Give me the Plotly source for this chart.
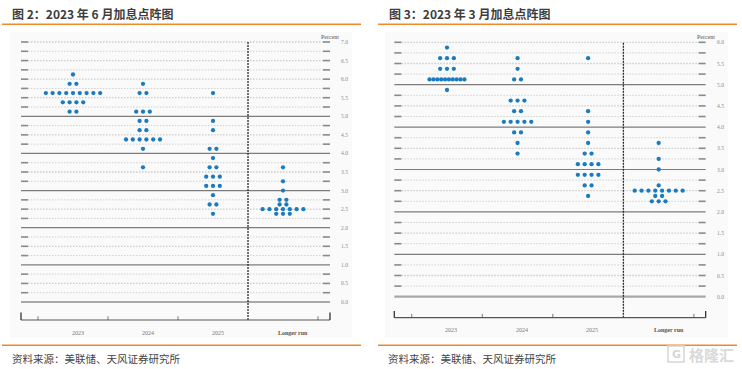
import plotly.graph_objects as go

W, H = 742, 369

# ---------------- data ----------------
CATEGORIES = ["2023", "2024", "2025", "Longer run"]

# June 2023 SEP (figure 2): projected rate levels and number of participants
JUN_LEVELS_2023 = [6.125, 5.875, 5.625, 5.375, 5.125]
JUN_COUNTS_2023 = [1, 2, 9, 4, 2]
JUN_LEVELS_2024 = [5.875, 5.625, 5.125, 4.875, 4.625, 4.375, 4.125, 3.625]
JUN_COUNTS_2024 = [1, 2, 3, 2, 2, 6, 1, 1]
JUN_LEVELS_2025 = [5.625, 4.875, 4.625, 4.125, 3.875, 3.625, 3.375, 3.125, 2.875, 2.625, 2.375]
JUN_COUNTS_2025 = [1, 1, 1, 2, 1, 2, 3, 3, 1, 2, 1]
JUN_LEVELS_LR = [3.625, 3.25, 3.0, 2.75, 2.625, 2.5, 2.375]
JUN_COUNTS_LR = [1, 1, 1, 2, 2, 7, 3]

# March 2023 SEP (figure 3)
MAR_LEVELS_2023 = [5.875, 5.625, 5.375, 5.125, 4.875]
MAR_COUNTS_2023 = [1, 3, 3, 10, 1]
MAR_LEVELS_2024 = [5.625, 5.375, 5.125, 4.625, 4.375, 4.125, 3.875, 3.625, 3.375]
MAR_COUNTS_2024 = [1, 1, 2, 3, 2, 5, 2, 1, 1]
MAR_LEVELS_2025 = [5.625, 4.375, 4.125, 3.875, 3.625, 3.375, 3.125, 2.875, 2.625, 2.375]
MAR_COUNTS_2025 = [1, 1, 1, 1, 1, 2, 4, 4, 2, 1]
MAR_LEVELS_LR = [3.625, 3.25, 3.0, 2.625, 2.5, 2.375, 2.25]
MAR_COUNTS_LR = [1, 1, 1, 1, 8, 2, 3]

LEFT_TITLE = "图 2：2023 年 6 月加息点阵图"
RIGHT_TITLE = "图 3：2023 年 3 月加息点阵图"
SOURCE = "资料来源：美联储、天风证券研究所"
Y_MAX_LEFT = 7.0
Y_MAX_RIGHT = 6.0

# ---------------- styling ----------------
DOT = "#1a7cbf"
ORANGE = "#ef8a2a"
SERIF = "Liberation Serif"
CJK = "Noto Sans CJK SC"

fig = go.Figure()

panels = [
    dict(xa="x", ya="y", cols=[(JUN_LEVELS_2023, JUN_COUNTS_2023), (JUN_LEVELS_2024, JUN_COUNTS_2024),
                               (JUN_LEVELS_2025, JUN_COUNTS_2025), (JUN_LEVELS_LR, JUN_COUNTS_LR)],
         ymax=Y_MAX_LEFT, x0=0.257, x1=4.671, stub=0.1, axis_y=-0.485, cap=0.2, tick=0.1,
         lab_x=344, lab_off=[0.07, 0.07, 0.07, 0.14], lab_y=-0.83, pct_x=329.5),
    dict(xa="x2", ya="y2", cols=[(MAR_LEVELS_2023, MAR_COUNTS_2023), (MAR_LEVELS_2024, MAR_COUNTS_2024),
                                 (MAR_LEVELS_2025, MAR_COUNTS_2025), (MAR_LEVELS_LR, MAR_COUNTS_LR)],
         ymax=Y_MAX_RIGHT, x0=0.253, x1=4.666, stub=0.1, axis_y=-0.495, cap=0.16, tick=0.09,
         lab_x=720.7, lab_off=[0.06, 0.06, 0.06, 0.15], lab_y=-0.79, pct_x=706),
]

shapes = []
annotations = []

for p in panels:
    xa, ya = p["xa"], p["ya"]
    # dots
    xs, ys = [], []
    for ci, (levels, counts) in enumerate(p["cols"]):
        for lv, n in zip(levels, counts):
            sp = 0.097 if n < 10 else 0.055
            for k in range(n):
                xs.append(ci + 1 + (k - (n - 1) / 2) * sp)
                ys.append(lv)
    fig.add_trace(go.Scatter(x=xs, y=ys, mode="markers", xaxis=xa, yaxis=ya,
                             marker=dict(size=4.3, color=DOT, line=dict(width=0)),
                             hoverinfo="skip", showlegend=False))
    # horizontal grid lines
    n_lines = int(round(p["ymax"] / 0.25))
    for i in range(n_lines + 1):
        yv = i * 0.25
        is_int = abs(yv - round(yv)) < 1e-9
        if yv == 0:
            shapes.append(dict(type="line", xref=xa, yref=ya, x0=p["x0"], x1=p["x1"], y0=yv, y1=yv,
                               line=dict(color="#a8a8a8", width=2.2), layer="below"))
            continue
        if is_int and yv <= 5:
            shapes.append(dict(type="line", xref=xa, yref=ya, x0=p["x0"], x1=p["x1"], y0=yv, y1=yv,
                               line=dict(color="#7c7c7c", width=1.2), layer="below"))
            continue
        half = abs(yv * 2 - round(yv * 2)) < 1e-9
        shapes.append(dict(type="line", xref=xa, yref=ya, x0=p["x0"] + p["stub"], x1=p["x1"] - p["stub"],
                           y0=yv, y1=yv,
                           line=dict(color="#cccccc" if half else "#d0d0d0", width=1.3 if half else 1,
                                     dash="1.5px,1.5px"), layer="below"))
        for sx0, sx1 in [(p["x0"], p["x0"] + p["stub"]), (p["x1"] - p["stub"], p["x1"])]:
            shapes.append(dict(type="line", xref=xa, yref=ya, x0=sx0, x1=sx1, y0=yv, y1=yv,
                               line=dict(color="#8a8a8a", width=1.6), layer="below"))
    # vertical dashed separator
    shapes.append(dict(type="line", xref=xa, yref=ya, x0=3.5, x1=3.5, y0=p["axis_y"], y1=p["ymax"],
                       line=dict(color="#2a2a2a", width=1.3, dash="2px,1px")))
    # bottom axis
    shapes.append(dict(type="line", xref=xa, yref=ya, x0=p["x0"], x1=p["x1"], y0=p["axis_y"], y1=p["axis_y"],
                       line=dict(color="#555555", width=1.2)))
    for cx in [p["x0"], p["x1"]]:
        shapes.append(dict(type="line", xref=xa, yref=ya, x0=cx, x1=cx, y0=p["axis_y"],
                           y1=p["axis_y"] + p["cap"], line=dict(color="#333333", width=1.3)))
    for tx in [0.5, 1.5, 2.5, 4.5]:
        shapes.append(dict(type="line", xref=xa, yref=ya, x0=tx, x1=tx, y0=p["axis_y"],
                           y1=p["axis_y"] + p["tick"], line=dict(color="#555555", width=0.8)))
    # y labels
    n_lab = int(round(p["ymax"] / 0.5))
    for i in range(n_lab + 1):
        yv = i * 0.5
        annotations.append(dict(xref="paper", yref=ya, x=p["lab_x"] / W, y=yv, text=f"{yv:.1f}",
                                showarrow=False, xanchor="center", yanchor="middle",
                                font=dict(family=SERIF, size=5.5, color="#8a8a8a")))
    annotations.append(dict(xref="paper", yref="paper", x=p["pct_x"] / W, y=1 - 37 / H, text="Percent",
                            showarrow=False, xanchor="center", yanchor="middle",
                            font=dict(family=SERIF, size=6, color="#555555")))
    # category labels
    for ci, cat in enumerate(CATEGORIES):
        bold = cat == "Longer run"
        annotations.append(dict(xref=xa, yref=ya, x=ci + 1 + p["lab_off"][ci], y=p["lab_y"],
                                text=f"<b>{cat}</b>" if bold else cat, showarrow=False,
                                xanchor="center", yanchor="middle",
                                font=dict(family=SERIF, size=6, color="#555555" if bold else "#777777")))

# faint chart backgrounds
for bx0, bx1 in [(10, 352), (385, 728)]:
    shapes.insert(0, dict(type="rect", xref="paper", yref="paper", x0=bx0 / W, x1=bx1 / W,
                          y0=1 - 338 / H, y1=1 - 32 / H, fillcolor="#fafafa", line=dict(width=0),
                          layer="below"))

# titles, orange rules, source
for tx, lx0, lx1, title in [(10, 2, 361, LEFT_TITLE), (386.7, 378, 737, RIGHT_TITLE)]:
    annotations.append(dict(xref="paper", yref="paper", x=tx / W, y=1 - 13.5 / H, text=f"<b>{title}</b>",
                            showarrow=False, xanchor="left", yanchor="middle",
                            font=dict(family=CJK, size=12, color="#3d3d3d")))
    for ly in [24.3, 345.3]:
        shapes.append(dict(type="line", xref="paper", yref="paper", x0=lx0 / W, x1=lx1 / W,
                           y0=1 - ly / H, y1=1 - ly / H, line=dict(color=ORANGE, width=1.4)))
for sx in [10, 385.7]:
    annotations.append(dict(xref="paper", yref="paper", x=sx / W, y=1 - 358.5 / H, text=SOURCE,
                            showarrow=False, xanchor="left", yanchor="middle",
                            font=dict(family=CJK, size=10.5, color="#444444")))

# watermark
shapes.append(dict(type="rect", xref="paper", yref="paper", x0=668 / W, x1=684 / W,
                   y0=1 - 362 / H, y1=1 - 346 / H, line=dict(color="#d6d6d6", width=1.5),
                   fillcolor="rgba(0,0,0,0)"))
annotations.append(dict(xref="paper", yref="paper", x=676 / W, y=1 - 354 / H, text="<b>G</b>",
                        showarrow=False, xanchor="center", yanchor="middle",
                        font=dict(family="DejaVu Sans", size=11, color="#d6d6d6")))
annotations.append(dict(xref="paper", yref="paper", x=687 / W, y=1 - 354 / H, text="<b>格隆汇</b>",
                        showarrow=False, xanchor="left", yanchor="middle",
                        font=dict(family=CJK, size=15, color="#d9d9d9")))

fig.update_layout(
    width=W, height=H, margin=dict(l=0, r=0, t=0, b=0),
    paper_bgcolor="white", plot_bgcolor="rgba(0,0,0,0)",
    showlegend=False,
    xaxis=dict(domain=[0, 0.5], range=[-0.0429, 5.257], visible=False, fixedrange=True),
    yaxis=dict(domain=[0, 1], range=[-1.804, 8.131], visible=False, fixedrange=True),
    xaxis2=dict(domain=[0.5, 1], range=[-0.0771, 5.181], visible=False, fixedrange=True, anchor="y2"),
    yaxis2=dict(domain=[0, 1], range=[-1.705, 6.998], visible=False, fixedrange=True, anchor="x2"),
    shapes=shapes, annotations=annotations,
)

fig.write_html("out.html", config={"displayModeBar": False},
               post_script="document.body.style.margin='0';document.body.style.padding='0';"
                           "document.body.style.overflow='hidden';")
